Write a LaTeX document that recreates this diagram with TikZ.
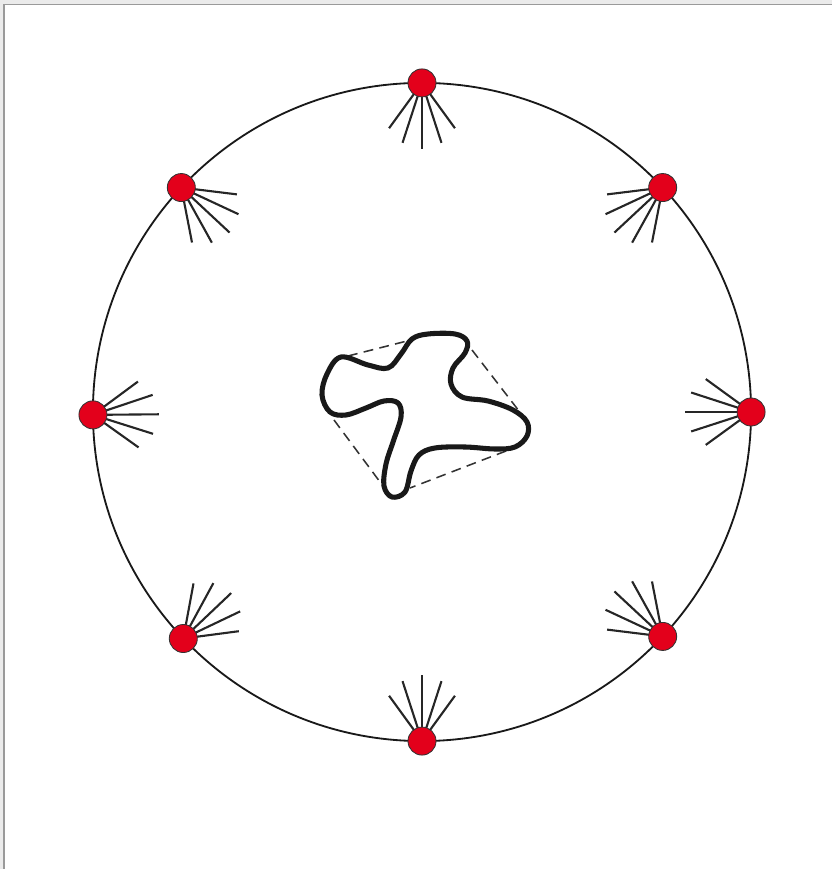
\documentclass[tikz,border=0pt]{standalone}
\usepackage{tikz}
\usetikzlibrary{calc}
\definecolor{dotRed}{HTML}{E3001B}
\definecolor{frameGray}{HTML}{9A9A9A}
\definecolor{frameLight}{HTML}{EBEBEB}
\tikzset{
  sensor/.style={circle, draw=black!80, fill=dotRed, line width=0.6pt,
    minimum size=0.7cm, inner sep=0pt},
  ray/.style={line width=1.5pt, draw=black!85},
  ring/.style={line width=1.3pt, draw=black!90},
  blob/.style={line width=3.6pt, line join=round, draw=black!90},
  hull/.style={line width=1.1pt, draw=black!80, dash pattern=on 7pt off 4.5pt},
}
\begin{document}
\begin{tikzpicture}[x=0.025cm, y=0.025cm]
  \useasboundingbox (0,0) rectangle (832,869);
  % screenshot frame
  \fill[frameLight] (0,865) rectangle (832,869);
  \fill[frameLight] (0,0) rectangle (3,869);
  \draw[frameGray, line width=1pt] (4,0) -- (4,864.5) -- (832,864.5);
  % ring
  \coordinate (c) at (422,457);
  \draw[ring] (c) circle[radius=8.225cm];
  % fans of rays
  \foreach \a [count=\i] in {90,43,0,-43,-90,-136.5,180.5,137} {
    \coordinate (p\i) at ($(c)+(\a:8.225cm)$);
    \foreach \k/\len in {-36/1.4cm, -18/1.575cm, 0/1.65cm, 18/1.575cm, 36/1.4cm}
      \draw[ray] (p\i) -- ++({\a+180+\k}:\len);
  }
  % sensors
  \foreach \i in {1,...,8}
    \node[sensor] (s\i) at (p\i) {};
  % dashed hull
  \draw[hull] (348,513) -- (407,528);
  \draw[hull] (472,519) -- (519,458);
  \draw[hull] (506,418) -- (410,381);
  \draw[hull] (334,449) -- (383,383);
  % blob
  \draw[blob, fill=white] plot[smooth cycle, tension=0.6] coordinates {
    (341,512) (368,504) (388,501) (401,515) (412,530) (428,535) (455,535)
    (467,528) (465,516) (453,501) (451,485) (462,472) (488,468) (513,459)
    (527,447) (527,433) (515,422) (495,420) (465,422) (435,421) (419,414)
    (411,398) (405,377) (392,372) (384,383) (386,405) (393,427) (401,452)
    (398,466) (384,468) (366,461) (346,454) (330,457) (322,474) (327,495)};
\end{tikzpicture}
\end{document}
